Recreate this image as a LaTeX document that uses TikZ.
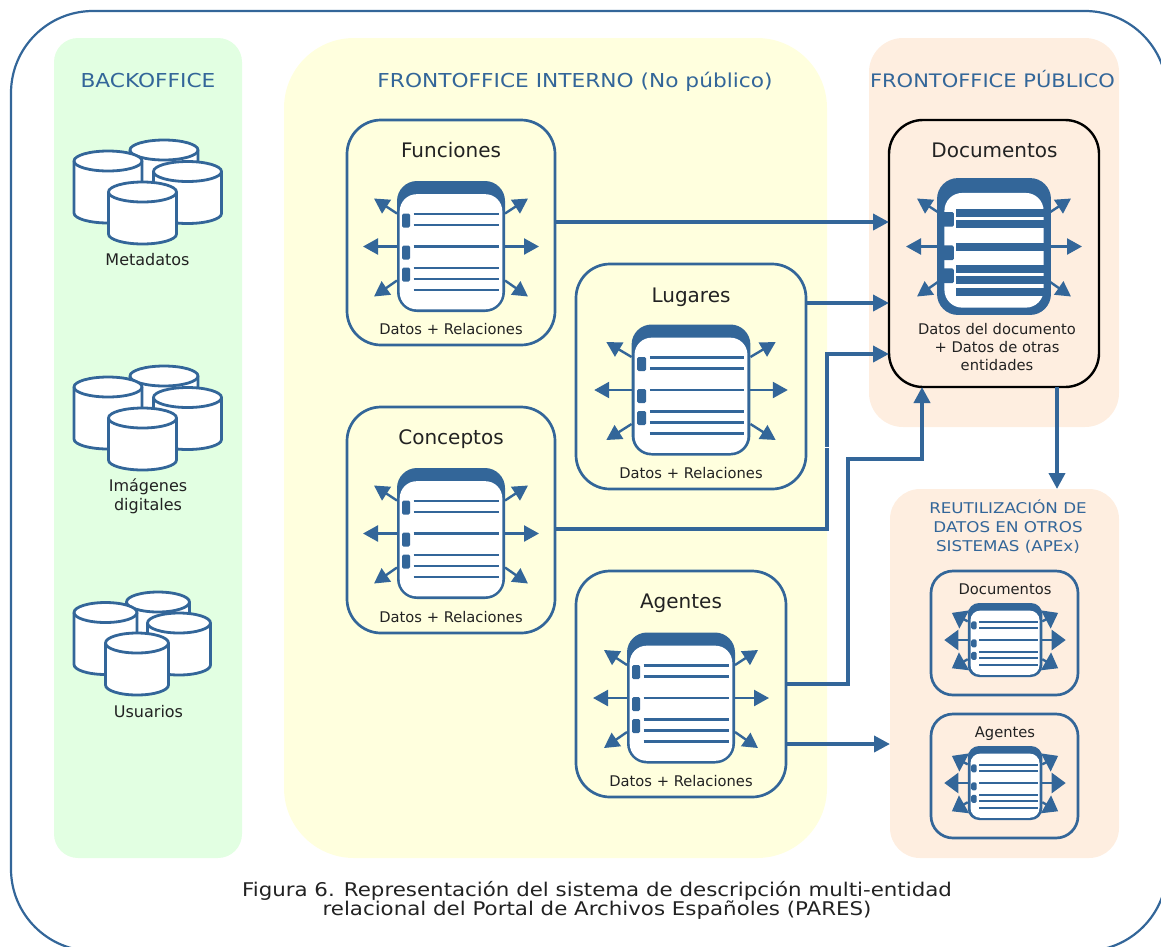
\documentclass[tikz,border=0pt]{standalone}
\usepackage{fontspec}
\setmainfont{DejaVu Sans}
\newfontfamily\widefont[FakeStretch=1.13]{DejaVu Sans}
\usepackage{tikz}
\usetikzlibrary{calc}
\usetikzlibrary{arrows.meta}

\definecolor{parblue}{HTML}{336699}
\definecolor{partext}{HTML}{222222}
\definecolor{pargreen}{HTML}{E2FFE2}
\definecolor{paryellow}{HTML}{FFFFDE}
\definecolor{parorange}{HTML}{FEEEE0}

\tikzset{
  panel/.style={rectangle,outer sep=0pt,inner sep=0pt},
  entbox/.style={panel,draw=parblue,line width=2.7pt,rounded corners=34pt},
  smallbox/.style={panel,draw=parblue,line width=2.7pt,rounded corners=22pt},
  flow/.style={draw=parblue,line width=3.8pt,-{Triangle[length=16pt,width=16pt]}},
  relarrow/.style={draw=parblue,line width=2.4pt,-{Triangle[length=15pt,width=16pt]}},
  smallrel/.style={draw=parblue,line width=2.4pt,-{Triangle[length=14pt,width=20pt]}},
  headtxt/.style={text=parblue,anchor=base,font=\widefont\fontsize{19.2}{19}\selectfont},
  titletxt/.style={text=partext,anchor=base,font=\fontsize{20}{20}\selectfont},
  labeltxt/.style={text=partext,anchor=base,font=\fontsize{14.7}{18}\selectfont},
  dbtxt/.style={text=partext,anchor=base,font=\fontsize{16}{19}\selectfont},
  captiontxt/.style={text=partext,font=\widefont\fontsize{18.9}{19}\selectfont},
}

\newcommand{\recordarrows}[5]{
  \begin{scope}[shift={(#1,#2)},xscale=#3,yscale=#4]
    \foreach \sx/\sy/\ex/\ey in {-54/-33/-77/-48,54/-33/77/-48,-50/0/-88/0,50/0/88/0,-54/34/-77/50,54/34/77/50}
      \draw[#5] (\sx,\sy)--(\ex,\ey);
  \end{scope}
}

\newcommand{\recordbody}[6]{
  \begin{scope}[shift={(#1,#2)},xscale=#3,yscale=#4]
    \fill[parblue,rounded corners=#4*20pt] (-54,-65.5) rectangle (54,65.5);
    \fill[white,rounded corners=#4*17pt] ($(-54,-53)+(#5,#5/4)$) rectangle ($(54,65.5)-(#5,#5)$);
    \foreach \ly in {-32.5,-21.5,0,21.5,32.5,43.5}
      \draw[parblue,line width=#6pt] (-38+#6/4,\ly)--(48,\ly);
    \foreach \ty in {-26,6,28}
      \fill[parblue,rounded corners=1.5pt] (-49,\ty-7) rectangle (-42+#6/2,\ty+7);
  \end{scope}
}

\newcommand{\dbdisk}[4]{
  \filldraw[fill=white,draw=parblue,line width=2.8pt] (#1-#3,#2) -- (#1-#3,#2+#4) arc[start angle=180,end angle=0,x radius=#3,y radius=10] -- (#1+#3,#2) arc[start angle=0,end angle=-180,x radius=#3,y radius=10] -- cycle;
  \draw[parblue,line width=2.8pt] (#1-#3,#2) arc[start angle=180,end angle=0,x radius=#3,y radius=10];
}

\begin{document}
\begin{tikzpicture}[x=1pt,y=-1pt]
\useasboundingbox (0,0) rectangle (1161,946);

\begin{scope}
\clip (0,0) rectangle (1161,946);
\node[panel,draw=parblue,line width=2.2pt,rounded corners=82pt,minimum width=1156pt,minimum height=940pt] (frame) at (589,481) {};
\end{scope}

\node[panel,fill=pargreen,rounded corners=24pt,minimum width=188pt,minimum height=820pt] (back) at (148,448) {};
\node[panel,fill=paryellow,rounded corners=70pt,minimum width=543pt,minimum height=820pt] (front) at (555.5,448) {};
\node[panel,fill=parorange,rounded corners=34pt,minimum width=250pt,minimum height=389pt] (pub) at (994,232.5) {};
\node[panel,fill=parorange,rounded corners=30pt,minimum width=229pt,minimum height=369pt] (reuso) at (1004.5,673.5) {};

\node[headtxt] (back_t) at (148,87) {BACKOFFICE};
\node[headtxt] (front_t) at (575,87) {FRONTOFFICE INTERNO (No público)};
\node[headtxt,font=\widefont\fontsize{18.6}{19}\selectfont] (pub_t) at (992.5,87) {FRONTOFFICE PÚBLICO};
\node[text=parblue,font=\widefont\fontsize{14.8}{19}\selectfont,align=center] (reuso_t) at (1008,527) {REUTILIZACIÓN DE\\DATOS EN OTROS\\SISTEMAS (APEx)};

\foreach \dy in {0,226}{
  \dbdisk{164}{150+\dy}{34}{42}
  \dbdisk{108}{161+\dy}{34}{52}
  \dbdisk{187.5}{171.5+\dy}{34}{42}
  \dbdisk{142.5}{192+\dy}{34}{42}
}
\dbdisk{158}{602}{31.5}{42}
\dbdisk{105.5}{612.5}{31.5}{52}
\dbdisk{179}{623}{31.5}{42}
\dbdisk{137}{643}{31.5}{42}

\node[dbtxt] (meta) at (147.5,265) {Metadatos};
\node[dbtxt,anchor=center,align=center] (imag) at (148,496.5) {Imágenes\\digitales};
\node[dbtxt] (user) at (148.5,717) {Usuarios};

\node[entbox,minimum width=208pt,minimum height=225pt] (funciones) at (451,232.5) {};
\node[entbox,minimum width=230pt,minimum height=225pt] (lugares) at (691,376.5) {};
\node[entbox,minimum width=208pt,minimum height=226pt] (conceptos) at (451,520) {};
\node[entbox,minimum width=210pt,minimum height=226pt] (agentes) at (681,684) {};
\node[panel,draw=black,line width=2.4pt,rounded corners=34pt,minimum width=210pt,minimum height=267pt] (doc) at (994,253.5) {};
\node[smallbox,minimum width=147pt,minimum height=124pt] (doc2) at (1004.5,633) {};
\node[smallbox,minimum width=147pt,minimum height=124pt] (agentes2) at (1004.5,776) {};

\recordarrows{451}{246.5}{1}{1}{relarrow}
\recordbody{451}{246.5}{1}{1}{2.7}{2.2}
\recordarrows{691}{390}{1.1}{1}{relarrow}
\recordbody{691}{390}{1.1}{1}{2.7}{2.2}
\recordarrows{451}{533.5}{1}{1}{relarrow}
\recordbody{451}{533.5}{1}{1}{2.7}{2.2}
\recordarrows{681}{698}{1}{1}{relarrow}
\recordbody{681}{698}{1}{1}{2.7}{2.2}
\recordarrows{994}{246.5}{1}{1}{relarrow}
\recordbody{994}{246.5}{1.055}{1.045}{7}{8}
\recordarrows{1005}{640}{.69}{.565}{smallrel}
\recordbody{1005}{640}{.69}{.565}{4}{2}
\recordarrows{1005}{783}{.69}{.565}{smallrel}
\recordbody{1005}{783}{.69}{.565}{4}{2}

\node[titletxt] (funciones_t) at (451,157) {Funciones};
\node[titletxt] (lugares_t) at (691,302) {Lugares};
\node[titletxt] (conceptos_t) at (451,444) {Conceptos};
\node[titletxt] (agentes_t) at (681,608) {Agentes};
\node[titletxt] (doc_t) at (994.5,157) {Documentos};
\node[labeltxt] (doc2_t) at (1005,594) {Documentos};
\node[labeltxt] (agentes2_t) at (1005,737) {Agentes};

\node[labeltxt] (funciones_l) at (451,334) {Datos + Relaciones};
\node[labeltxt] (lugares_l) at (691,478) {Datos + Relaciones};
\node[labeltxt] (conceptos_l) at (451,622) {Datos + Relaciones};
\node[labeltxt] (agentes_l) at (681,786) {Datos + Relaciones};
\node[labeltxt,anchor=center,align=center] (doc_l) at (997,347.5) {Datos del documento\\+ Datos de otras\\entidades};

\coordinate (lev_fn) at (0,222);
\coordinate (lev_lg) at (0,303);
\coordinate (con_a) at (827,529);
\coordinate (con_b) at (827,354);
\coordinate (age_a) at (848,684);
\coordinate (age_b) at (848,459);
\coordinate (age_c) at (922,459);
\coordinate (lev_ag) at (0,744);
\coordinate (doc_out) at (1057,0);

\draw[flow] (funciones.east |- lev_fn)--(doc.west |- lev_fn);
\draw[flow] (lugares.east |- lev_lg)--(doc.west |- lev_lg);
\draw[flow] (conceptos.east |- con_a)--(con_a)--(con_b)--(doc.west |- con_b);
\draw[flow] (agentes.east |- age_a)--(age_a)--(age_b)--(age_c)--(age_c |- doc.south);
\draw[flow] (agentes.east |- lev_ag)--(reuso.west |- lev_ag);
\draw[flow] (doc_out |- doc.south)--(doc_out |- reuso.north);
\draw[white,line width=1pt] (824,447)--(830,447);

\node[captiontxt,align=center] (caption) at (597,900.5) {Figura 6. Representación del sistema de descripción multi-entidad\\relacional del Portal de Archivos Españoles (PARES)};
\end{tikzpicture}
\end{document}
